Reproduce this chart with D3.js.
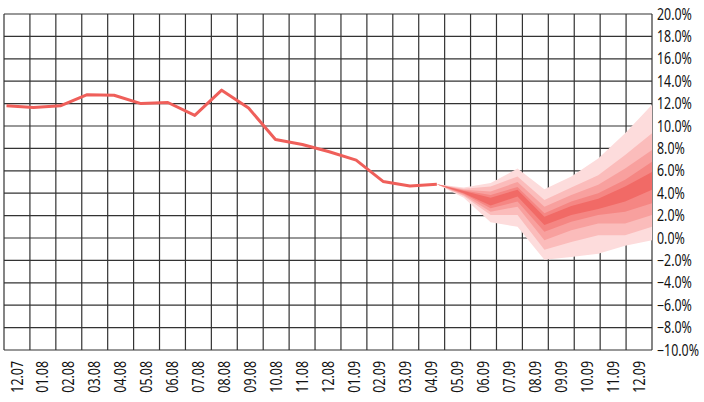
<!DOCTYPE html>
<html>
<head>
<meta charset="utf-8">
<script src="https://cdn.jsdelivr.net/npm/d3@7"></script>
<style>
  body { margin: 0; background: #fff; }
  svg text { font-family: "Noto Sans", sans-serif; fill: #111; }
</style>
</head>
<body>
<div id="chart"></div>
<script>
var width = 704, height = 402;

// months on the x axis
var months = ["12.07","01.08","02.08","03.08","04.08","05.08","06.08","07.08","08.08","09.08",
  "10.08","11.08","12.08","01.09","02.09","03.09","04.09","05.09","06.09","07.09",
  "08.09","09.09","10.09","11.09","12.09"];

// actual values, 12.07 .. 04.09
var actual = [11.8, 11.65, 11.8, 12.8, 12.75, 12.0, 12.1, 10.95, 13.2, 11.6,
  8.8, 8.35, 7.7, 6.95, 5.05, 4.65, 4.8];

// forecast fan, 04.09 .. 12.09 (outer to inner)
var fanMonths = months.slice(16);
var hi4 = [4.8, 4.5, 4.9, 6.2, 4.35, 5.5, 7.1, 9.35, 11.9];
var hi3 = [4.8, 4.4, 4.6, 5.5, 3.4, 4.5, 5.6, 7.4, 9.35];
var hi2 = [4.8, 4.3, 4.15, 5.0, 2.8, 3.85, 4.75, 6.2, 7.85];
var hi1 = [4.8, 4.25, 3.85, 4.55, 2.2, 3.25, 4.0, 5.2, 6.8];
var hi0 = [4.8, 4.2, 3.6, 4.3, 1.9, 2.85, 3.5, 4.6, 5.9];
var lo0 = [4.8, 4.0, 2.9, 3.7, 1.15, 2.05, 2.6, 3.25, 4.3];
var lo1 = [4.8, 3.95, 2.65, 3.25, 0.55, 1.45, 2.05, 2.35, 3.1];
var lo2 = [4.8, 3.85, 2.35, 2.8, -0.2, 0.7, 1.3, 1.3, 2.05];
var lo3 = [4.8, 3.75, 2.05, 2.05, -1.05, -0.35, 0.25, 0.25, 1.0];
var lo4 = [4.8, 3.6, 1.4, 1.0, -1.95, -1.7, -1.4, -0.7, -0.2];

var yTicks = d3.range(-10, 20.1, 2);

var plotLeft = 4, plotRight = 652, plotTop = 14, plotBottom = 350;

var svg = d3.select("#chart").append("svg")
    .attr("width", width)
    .attr("height", height);

var xBand = d3.scaleBand().domain(months).range([plotLeft, plotRight]);
var xPoint = d3.scalePoint().domain(months).range([6.5, plotRight]);
var y = d3.scaleLinear().domain([-10, 20]).range([plotBottom, plotTop]);

// grid
var grid = svg.append("g").attr("class", "grid");
var vlines = months.map(function (m) { return xBand(m); }).concat([plotRight]);
grid.selectAll("line.v")
    .data(vlines)
    .enter().append("line")
    .attr("class", "v")
    .attr("x1", d => d).attr("x2", d => d)
    .attr("y1", plotTop).attr("y2", plotBottom)
    .attr("stroke", "#333").attr("stroke-width", 1.2);
grid.selectAll("line.h")
    .data(yTicks)
    .enter().append("line")
    .attr("class", "h")
    .attr("x1", plotLeft).attr("x2", plotRight)
    .attr("y1", d => y(d)).attr("y2", d => y(d))
    .attr("stroke", "#333").attr("stroke-width", 1.2);

// fan bands
var bands = [
  {lo: lo4, hi: hi4, color: "#fddcdc"},
  {lo: lo3, hi: hi3, color: "#fbbcbb"},
  {lo: lo2, hi: hi2, color: "#f8a09e"},
  {lo: lo1, hi: hi1, color: "#f58683"},
  {lo: lo0, hi: hi0, color: "#f16a66"}
];
var area = d3.area()
    .x(d => xPoint(d.m))
    .y0(d => y(d.lo))
    .y1(d => y(d.hi));
bands.forEach(function (b) {
  var pts = fanMonths.map(function (m, i) { return {m: m, lo: b.lo[i], hi: b.hi[i]}; });
  svg.append("path")
      .datum(pts)
      .attr("d", area)
      .attr("fill", b.color);
});

// actual line
var line = d3.line()
    .x((d, i) => xPoint(months[i]))
    .y(d => y(d));
svg.append("path")
    .datum(actual)
    .attr("d", line)
    .attr("fill", "none")
    .attr("stroke", "#ef5f5a")
    .attr("stroke-width", 3)
    .attr("stroke-linejoin", "round");

// right axis labels
svg.append("g").selectAll("text")
    .data(yTicks)
    .enter().append("text")
    .attr("transform", d => "translate(657," + y(d) + ") scale(0.8,1)")
    .attr("dy", "0.36em")
    .attr("font-size", 15.5)
    .text(d => d3.format(".1f")(d) + "%");

// bottom axis labels
svg.append("g").selectAll("text")
    .data(months)
    .enter().append("text")
    .attr("transform", d => "translate(" + (xBand(d) + xBand.bandwidth() / 2) + ",361) rotate(-90) scale(0.8,1)")
    .attr("dy", "0.36em")
    .attr("text-anchor", "end")
    .attr("font-size", 15.5)
    .text(d => d);
</script>
</body>
</html>
